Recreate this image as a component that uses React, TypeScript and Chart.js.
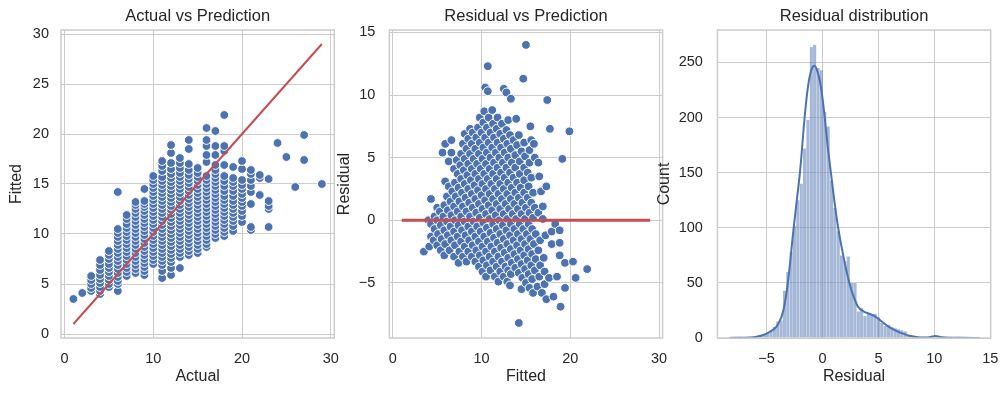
import React, { useEffect, useRef } from "react";
import { Chart, registerables } from "chart.js";

Chart.register(...registerables);

const FONT = "'Liberation Sans', Arial, Helvetica, sans-serif";
const TEXT = "#262626";
const GRID = "#cccccc";
const BLUE = "#4C72B0";
const RED = "#C44E52";

// ---- Data: actual target levels and the fitted values observed at each level ----
const ACTUAL_LEVELS = [1, 2, 3, 4, 5, 6, 7, 8, 9, 10, 11, 12, 13, 14, 15, 16, 17, 18, 19, 20, 21, 22, 23, 24, 25, 26, 27, 29];
const FITTED_BY_ACTUAL: number[][] = [
  [3.5],
  [4.1],
  [4.3, 4.6, 5.0, 5.4, 5.8],
  [4.0, 4.3, 4.7, 5.1, 5.5, 5.9, 6.4, 6.9, 7.4],
  [4.7, 5.0, 5.4, 5.8, 6.2, 6.6, 7.0, 7.5, 7.9, 8.3],
  [4.3, 5.0, 5.3, 5.7, 6.1, 6.5, 6.9, 7.3, 7.7, 8.1, 8.5, 8.9, 9.3, 9.7, 10.1, 10.5, 14.2],
  [5.8, 6.2, 6.6, 7.0, 7.4, 7.8, 8.2, 8.6, 9.0, 9.4, 9.8, 10.2, 10.6, 11.0, 11.5, 11.9],
  [6.1, 6.5, 6.9, 7.3, 7.7, 8.1, 8.5, 8.9, 9.3, 9.7, 10.1, 10.5, 10.9, 11.3, 11.7, 12.1, 12.5, 12.9, 13.2],
  [5.9, 6.3, 6.7, 7.1, 7.5, 7.9, 8.3, 8.7, 9.1, 9.5, 9.9, 10.3, 10.7, 11.1, 11.5, 11.9, 12.3, 12.7, 13.0, 13.3, 14.5],
  [7.0, 7.4, 7.8, 8.2, 8.6, 9.0, 9.4, 9.8, 10.2, 10.6, 11.0, 11.4, 11.8, 12.2, 12.6, 13.0, 13.4, 13.8, 14.2, 14.6, 15.0, 15.4, 15.8],
  [5.6, 6.3, 6.9, 7.3, 7.7, 8.1, 8.5, 8.9, 9.3, 9.7, 10.1, 10.5, 10.9, 11.3, 11.7, 12.1, 12.5, 12.9, 13.3, 13.7, 14.1, 14.5, 14.9, 15.3, 15.7, 16.3, 16.8, 17.3],
  [5.9, 6.6, 7.2, 7.6, 8.0, 8.4, 8.8, 9.2, 9.6, 10.0, 10.4, 10.8, 11.2, 11.6, 12.0, 12.4, 12.8, 13.2, 13.6, 14.0, 14.4, 14.8, 15.2, 15.6, 16.0, 16.5, 17.1, 18.1, 18.9],
  [6.6, 7.7, 8.1, 8.5, 8.9, 9.3, 9.7, 10.1, 10.5, 10.9, 11.3, 11.7, 12.1, 12.5, 12.9, 13.3, 13.7, 14.1, 14.5, 14.9, 15.3, 15.7, 16.1, 16.6, 17.1, 17.6],
  [7.9, 8.3, 8.7, 9.1, 9.5, 9.9, 10.3, 10.7, 11.1, 11.5, 11.9, 12.3, 12.7, 13.1, 13.5, 13.9, 14.3, 14.7, 15.1, 15.5, 15.9, 16.4, 17.0, 18.5, 19.4],
  [8.1, 8.5, 8.9, 9.3, 9.7, 10.1, 10.5, 10.9, 11.3, 11.7, 12.1, 12.5, 12.9, 13.3, 13.7, 14.1, 14.5, 14.9, 15.3, 15.7, 16.1, 16.6],
  [8.7, 9.0, 9.4, 9.8, 10.2, 10.6, 11.0, 11.4, 11.8, 12.2, 12.6, 13.0, 13.4, 13.8, 14.2, 14.6, 15.0, 15.4, 15.8, 17.2, 17.9, 18.8, 19.4, 20.6],
  [9.6, 10.0, 10.4, 10.8, 11.2, 11.6, 12.0, 12.4, 12.8, 13.2, 13.6, 14.0, 14.4, 14.8, 15.2, 15.6, 16.0, 16.4, 16.9, 17.9, 18.8, 20.3],
  [9.8, 10.2, 10.6, 11.0, 11.4, 11.8, 12.2, 12.6, 13.0, 13.4, 13.8, 14.3, 14.8, 15.3, 15.8, 16.9, 18.3, 18.8, 21.9],
  [10.3, 10.8, 11.3, 11.7, 12.1, 12.5, 12.9, 13.3, 13.8, 14.3, 14.8, 15.2, 15.6, 16.7],
  [11.2, 11.8, 12.3, 12.8, 13.2, 13.6, 14.0, 14.5, 14.9, 15.4, 16.5, 17.3],
  [10.4, 10.7, 13.0, 14.2, 14.8, 15.4, 16.0, 16.4],
  [13.9, 15.6, 15.9],
  [10.7, 12.5, 12.8, 13.3, 15.5],
  [19.1],
  [17.7],
  [14.7],
  [17.4, 19.9],
  [15.0],
];

// ---- Residual histogram (counts per bin) and its KDE curve ----
const HIST_START = -8.35;
const HIST_BIN_WIDTH = 0.3;
const HIST_COUNTS = [
  1, 0, 0, 1, 0, 1, 1, 1, 2, 3,
  4, 5, 7, 10, 15, 16, 43, 60, 78, 102,
  125, 140, 172, 198, 264, 266, 245, 243, 205, 192,
  143, 118, 97, 75, 70, 74, 50, 50, 24, 27,
  20, 22, 21, 22, 19, 14, 11, 12, 10, 9,
  8, 7, 6, 2, 2, 1, 1, 0, 1, 0,
  1, 2, 1, 0, 0, 1, 0, 0, 1, 0,
  0, 0, 0, 0, 1,
];
const KDE_X = [-8.3, -7, -6, -5.5, -5, -4.5, -4, -3.5, -3.1, -2.6, -2.3, -2.0, -1.6, -1.3, -1.0, -0.72, -0.4, -0.1, 0.2, 0.45, 0.75, 1.05, 1.4, 1.85, 2.4, 2.8, 3.2, 3.7, 4.2, 4.8, 5.3, 5.8, 6.5, 7.2, 8.0, 8.7, 9.4, 10.1, 10.7, 11.5, 12.5, 14.0];
const KDE_Y = [0.1, 0.3, 1, 2, 4, 7, 12, 25, 50, 98, 125, 152, 200, 228, 243, 247, 240, 225, 200, 175, 150, 125, 100, 75, 50, 37, 28, 24, 22, 19, 15, 11, 7, 4, 1.5, 0.5, 0.5, 1.8, 0.6, 0.3, 0.2, 0];

// ---- Tick labels ----
const AVP_X_TICKS = [0, 10, 20, 30];
const AVP_Y_TICKS = [0, 5, 10, 15, 20, 25, 30];
const RVP_X_TICKS = [0, 10, 20, 30];
const RVP_Y_TICKS = [-5, 0, 5, 10, 15];
const HIST_X_TICKS = [-5, 0, 5, 10, 15];
const HIST_Y_TICKS = [0, 50, 100, 150, 200, 250];

const W = 1008;
const H = 396;

const fmt = (v: number) => (v < 0 ? "\u2212" + Math.abs(v) : String(v));

function axis(o: {
  min: number; max: number; ticks: number[]; title: string;
  horizontal: boolean; thickness: number; tickPad: number; titlePad: number;
}) {
  return {
    type: "linear",
    min: o.min,
    max: o.max,
    offset: false,
    afterBuildTicks: (s: any) => {
      s.ticks = o.ticks.map((v) => ({ value: v }));
    },
    afterFit: (s: any) => {
      if (o.horizontal) s.height = o.thickness;
      else s.width = o.thickness;
      s.paddingLeft = 0;
      s.paddingRight = 0;
      s.paddingTop = 0;
      s.paddingBottom = 0;
    },
    grid: { color: GRID, lineWidth: 1, drawTicks: false, offset: false },
    border: { display: false },
    ticks: {
      font: { family: FONT, size: 14.5 },
      color: TEXT,
      padding: o.tickPad,
      autoSkip: false,
      maxRotation: 0,
      callback: (v: any) => fmt(Number(v)),
    },
    title: {
      display: true,
      text: o.title,
      color: TEXT,
      font: { family: FONT, size: 16 },
      padding: o.horizontal ? { top: 0, bottom: 9.5 } : { top: o.titlePad, bottom: 0 },
    },
  };
}

const framePlugin = {
  id: "frame",
  afterDatasetsDraw(chart: any) {
    const { ctx, chartArea: a } = chart;
    ctx.save();
    ctx.strokeStyle = GRID;
    ctx.lineWidth = 1.5;
    ctx.strokeRect(a.left, a.top, a.right - a.left, a.bottom - a.top);
    ctx.restore();
  },
};

function titleOpts(text: string) {
  return {
    display: true,
    text,
    color: TEXT,
    fullSize: false,
    font: { family: FONT, size: 16.5, weight: "normal" as const },
    padding: { top: 6.1, bottom: 4.1 },
  };
}

function baseOptions(padLeft: number, padRight: number, title: string, scales: any) {
  return {
    responsive: false,
    animation: false as const,
    devicePixelRatio: 1,
    layout: { padding: { left: padLeft, right: padRight, top: 0, bottom: 0 } },
    plugins: {
      legend: { display: false },
      tooltip: { enabled: false },
      title: titleOpts(title),
    },
    scales,
  };
}

export default function App() {
  const r1 = useRef<HTMLCanvasElement>(null);
  const r2 = useRef<HTMLCanvasElement>(null);
  const r3 = useRef<HTMLCanvasElement>(null);

  useEffect(() => {
    const avpPoints = ACTUAL_LEVELS.flatMap((a, i) => FITTED_BY_ACTUAL[i].map((f) => ({ x: a, y: f })));
    const rvpPoints = ACTUAL_LEVELS.flatMap((a, i) =>
      FITTED_BY_ACTUAL[i].map((f) => ({ x: f, y: Math.round((a - f) * 100) / 100 }))
    );
    const aMin = Math.min(...ACTUAL_LEVELS);
    const aMax = Math.max(...ACTUAL_LEVELS);

    const scatterStyle = {
      pointRadius: 4.4,
      pointHoverRadius: 4.4,
      pointBackgroundColor: BLUE,
      pointBorderColor: "#ffffff",
      pointBorderWidth: 1,
      backgroundColor: BLUE,
      borderColor: "#ffffff",
      showLine: false,
    };

    const c1 = new Chart(r1.current as HTMLCanvasElement, {
      type: "scatter",
      data: {
        datasets: [
          {
            type: "line",
            data: [{ x: aMin, y: aMin }, { x: aMax, y: aMax }],
            borderColor: RED,
            borderWidth: 2,
            pointRadius: 0,
            showLine: true,
            fill: false,
            order: 0,
          } as any,
          { data: avpPoints, ...scatterStyle, order: 1 } as any,
        ],
      },
      options: baseOptions(0, W - 334.3, "Actual vs Prediction", {
        x: axis({ min: -0.4, max: 30.4, ticks: AVP_X_TICKS, title: "Actual", horizontal: true, thickness: 58, tickPad: 12, titlePad: 0 }),
        y: axis({ min: -0.4, max: 30.4, ticks: AVP_Y_TICKS, title: "Fitted", horizontal: false, thickness: 61, tickPad: 12, titlePad: 6.7 }),
      }) as any,
      plugins: [framePlugin],
    });

    const c2 = new Chart(r2.current as HTMLCanvasElement, {
      type: "scatter",
      data: {
        datasets: [
          {
            type: "line",
            data: [{ x: aMin, y: 0 }, { x: aMax, y: 0 }],
            borderColor: RED,
            borderWidth: 3,
            pointRadius: 0,
            showLine: true,
            fill: false,
            order: 0,
          } as any,
          { data: rvpPoints, ...scatterStyle, order: 1 } as any,
        ],
      },
      options: baseOptions(330, W - 662.6, "Residual vs Prediction", {
        x: axis({ min: -0.4, max: 30.4, ticks: RVP_X_TICKS, title: "Fitted", horizontal: true, thickness: 58, tickPad: 12, titlePad: 0 }),
        y: axis({ min: -9.4, max: 15.19, ticks: RVP_Y_TICKS, title: "Residual", horizontal: false, thickness: 59.3, tickPad: 14, titlePad: 5.4 }),
      }) as any,
      plugins: [framePlugin],
    });

    const histData = HIST_COUNTS.map((c, i) => ({ x: HIST_START + HIST_BIN_WIDTH * (i + 0.5), y: c }));
    const kdeData = KDE_X.map((x, i) => ({ x, y: KDE_Y[i] }));

    const c3 = new Chart(r3.current as HTMLCanvasElement, {
      type: "bar",
      data: {
        datasets: [
          {
            type: "line",
            data: kdeData,
            borderColor: BLUE,
            borderWidth: 2,
            pointRadius: 0,
            fill: false,
            cubicInterpolationMode: "monotone",
            order: 0,
          } as any,
          {
            type: "bar",
            data: histData,
            backgroundColor: "rgba(76,114,176,0.5)",
            borderColor: "rgba(255,255,255,0.4)",
            borderWidth: 0.4,
            borderSkipped: "start",
            barPercentage: 1,
            categoryPercentage: 1,
            order: 1,
          } as any,
        ],
      },
      options: baseOptions(650, W - 990.7, "Residual distribution", {
        x: axis({ min: -9.4, max: 15.04, ticks: HIST_X_TICKS, title: "Residual", horizontal: true, thickness: 58, tickPad: 12, titlePad: 0 }),
        y: axis({ min: 0, max: 279.4, ticks: HIST_Y_TICKS, title: "Count", horizontal: false, thickness: 67.4, tickPad: 14.5, titlePad: 4.9 }),
      }) as any,
      plugins: [framePlugin],
    });

    return () => {
      c1.destroy();
      c2.destroy();
      c3.destroy();
    };
  }, []);

  const cs: React.CSSProperties = { position: "absolute", left: 0, top: 0, width: W, height: H };
  return (
    <div style={{ position: "fixed", left: 0, top: 0, width: W, height: H, background: "#ffffff" }}>
      <canvas ref={r1} width={W} height={H} style={cs} />
      <canvas ref={r2} width={W} height={H} style={cs} />
      <canvas ref={r3} width={W} height={H} style={cs} />
    </div>
  );
}
